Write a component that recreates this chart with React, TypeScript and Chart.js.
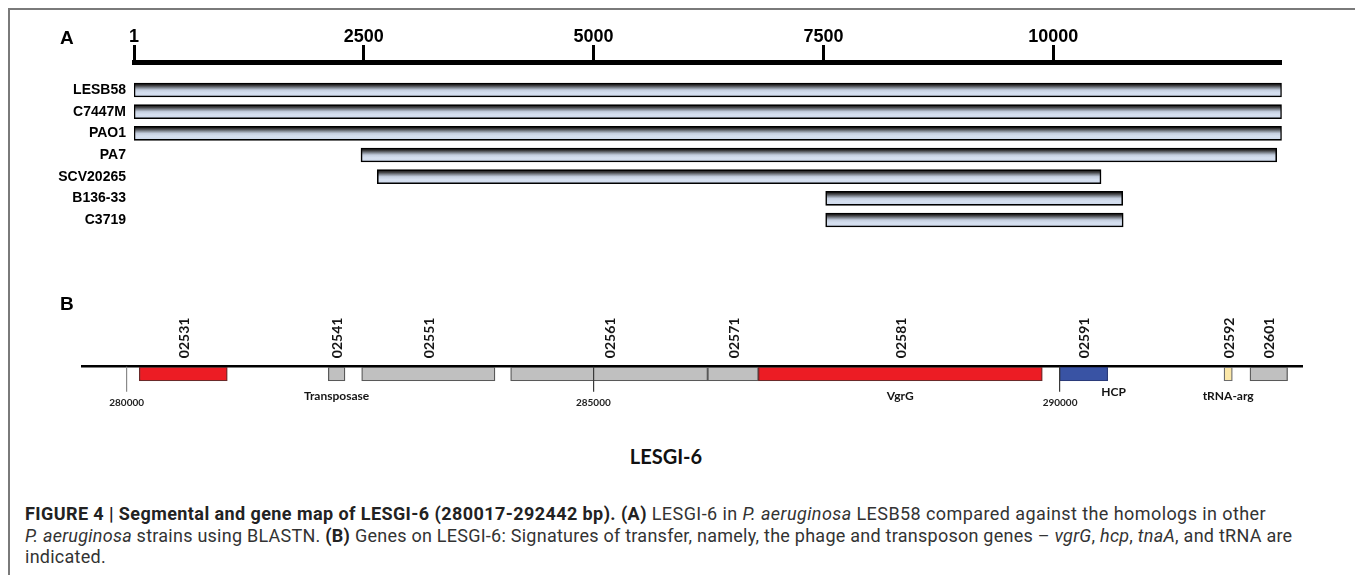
import React, { useEffect, useRef } from 'react';
import { Chart, registerables } from 'chart.js';

Chart.register(...registerables);

// ---------- Panel A data ----------
const strains = ['LESB58', 'C7447M', 'PAO1', 'PA7', 'SCV20265', 'B136-33', 'C3719'];
const strainStart = [1, 1, 1, 2470, 2647, 7524, 7524];
const strainEnd = [12484, 12484, 12484, 12430, 10519, 10755, 10760];
const rulerTicks = [1, 2500, 5000, 7500, 10000];
const rulerMin = 1;
const rulerMax = 12484;

// ---------- Panel B data ----------
const genes = ['02531', '02541', '02551', '02561', '02571', '02581', '02591', '02592', '02601'];
const geneStart = [280135, 282160, 282518, 284114, 286225, 286768, 289993, 291757, 292035];
const geneEnd = [281078, 282339, 283946, 286225, 286768, 289810, 290511, 291846, 292438];
const geneType = ['phage', 'other', 'other', 'other', 'other', 'phage', 'hcp', 'trna', 'other'];
const geneNotes = ['', 'Transposase', '', '', '', 'VgrG', 'HCP', 'tRNA-arg', ''];
const bpTicks = [280000, 285000, 290000];
const bpMin = 279529;
const bpMax = 292600;

// ---------- styles ----------
const typeFill: Record<string, string> = {
  phage: '#ec1c24',
  other: '#c0c0c0',
  hcp: '#3953a4',
  trna: '#fbe7a8',
};
const typeStroke: Record<string, string> = {
  phage: '#6a2a2a',
  other: '#595959',
  hcp: '#2b3b7a',
  trna: '#6b6b6b',
};

const barGradient = (c: any) => {
  const chart = c.chart;
  const { ctx, chartArea, scales } = chart;
  if (!chartArea || !c.raw) return '#d3ddee';
  const yc = scales.y.getPixelForValue(c.raw.y);
  const g = ctx.createLinearGradient(0, yc - 7, 0, yc + 7);
  g.addColorStop(0, '#0e0e0e');
  g.addColorStop(0.18, '#3c3c3e');
  g.addColorStop(0.36, '#8a919c');
  g.addColorStop(0.5, '#c4cedf');
  g.addColorStop(0.7, '#d6e0f0');
  g.addColorStop(1, '#cdd8ea');
  return g;
};

const geneLabelPlugin = {
  id: 'geneLabels',
  afterDatasetsDraw(chart: any) {
    const { ctx, chartArea, scales } = chart;
    const x = scales.x;
    ctx.save();
    ctx.fillStyle = '#151515';
    ctx.font = 'bold 14px Lato';
    genes.forEach((g, i) => {
      const cx = x.getPixelForValue((geneStart[i] + geneEnd[i]) / 2);
      ctx.save();
      ctx.translate(cx, chartArea.top - 8.5);
      ctx.rotate(-Math.PI / 2);
      ctx.textAlign = 'left';
      ctx.textBaseline = 'middle';
      ctx.fillText(g, 0, 1);
      ctx.restore();
    });
    ctx.font = 'bold 12px Lato';
    ctx.textAlign = 'center';
    ctx.textBaseline = 'middle';
    geneNotes.forEach((n, i) => {
      if (!n) return;
      let cx = x.getPixelForValue((geneStart[i] + geneEnd[i]) / 2);
      let cy = chartArea.bottom + 15;
      if (n === 'HCP') {
        cx += 30;
        cy -= 4.5;
      }
      ctx.fillText(n, cx, cy);
    });
    ctx.restore();
  },
};

export default function App() {
  const refA = useRef<HTMLCanvasElement>(null);
  const refB = useRef<HTMLCanvasElement>(null);

  useEffect(() => {
    const chartA = new Chart(refA.current as HTMLCanvasElement, {
      type: 'bar',
      data: {
        datasets: [
          {
            data: strains.map((s, i) => ({ x: [strainStart[i], strainEnd[i]], y: i })) as any,
            backgroundColor: barGradient as any,
            borderColor: '#000',
            borderWidth: 1.6,
            borderSkipped: false,
            barThickness: 14,
          },
        ],
      },
      options: {
        indexAxis: 'y',
        animation: false,
        responsive: false,
        maintainAspectRatio: false,
        layout: { padding: { left: 0, right: 73.3, top: 0, bottom: 20 } },
        plugins: { legend: { display: false }, tooltip: { enabled: false } },
        scales: {
          x: {
            type: 'linear',
            position: 'top',
            min: rulerMin,
            max: rulerMax,
            afterFit: (s: any) => {
              s.height = 62.5;
            },
            afterBuildTicks: (s: any) => {
              s.ticks = rulerTicks.map((v) => ({ value: v }));
            },
            grid: {
              display: true,
              drawOnChartArea: false,
              drawTicks: true,
              tickLength: 17.5,
              tickWidth: 3,
              tickColor: '#000',
            },
            border: { display: true, width: 5, color: '#000' },
            ticks: {
              autoSkip: false,
              maxRotation: 0,
              padding: -3,
              color: '#000',
              font: { family: 'Liberation Sans', size: 18, weight: 'bold' },
              callback: (v: any) => String(v),
            },
          },
          y: {
            type: 'linear',
            offset: false,
            reverse: true,
            min: -1.269,
            max: 6.922,
            afterFit: (s: any) => {
              s.width = 134;
            },
            afterBuildTicks: (s: any) => {
              s.ticks = strains.map((_, i) => ({ value: i }));
            },
            grid: { display: false, drawTicks: false, offset: false },
            border: { display: false },
            ticks: {
              padding: 8,
              color: '#000',
              font: { family: 'Liberation Sans', size: 14, weight: 'bold' },
              callback: (v: any) => strains[v] ?? '',
            },
          },
        },
      } as any,
    });

    const chartB = new Chart(refB.current as HTMLCanvasElement, {
      type: 'bar',
      data: {
        labels: ['genes'],
        datasets: [
          {
            data: genes.map((g, i) => ({ x: [geneStart[i], geneEnd[i]], y: 'genes' })) as any,
            backgroundColor: geneType.map((t) => typeFill[t]),
            borderColor: geneType.map((t) => typeStroke[t]),
            borderWidth: 1.3,
            borderSkipped: false,
            barThickness: 14,
          },
        ],
      },
      options: {
        indexAxis: 'y',
        animation: false,
        responsive: false,
        maintainAspectRatio: false,
        layout: { padding: { left: 82.7, right: 52.3, top: 0, bottom: 0 } },
        plugins: { legend: { display: false }, tooltip: { enabled: false } },
        scales: {
          x: {
            type: 'linear',
            position: 'bottom',
            min: bpMin,
            max: bpMax,
            afterFit: (s: any) => {
              s.height = 38.7;
            },
            afterBuildTicks: (s: any) => {
              s.ticks = bpTicks.map((v) => ({ value: v }));
            },
            grid: {
              display: true,
              drawOnChartArea: true,
              drawTicks: true,
              tickLength: 10.4,
              color: (c: any) => (c.tick && c.tick.value === bpTicks[0] ? '#8a8a8a' : '#3a3a3a'),
              lineWidth: 1.2,
              z: 1,
            },
            border: { display: false },
            ticks: {
              autoSkip: false,
              maxRotation: 0,
              padding: 5,
              color: '#222',
              font: { family: 'Lato', size: 10, weight: 'bold' },
              callback: (v: any) => String(v),
            },
          },
          xTop: {
            type: 'linear',
            axis: 'x',
            position: 'top',
            min: bpMin,
            max: bpMax,
            afterFit: (s: any) => {
              s.height = 116.7;
            },
            grid: { display: true, drawOnChartArea: false, drawTicks: false },
            border: { display: true, width: 2.6, color: '#000' },
            ticks: { display: false },
          },
          y: { type: 'category', display: false, offset: true },
        },
      } as any,
      plugins: [geneLabelPlugin as any],
    });

    return () => {
      chartA.destroy();
      chartB.destroy();
    };
  }, []);

  const abs = (o: React.CSSProperties): React.CSSProperties => ({ position: 'absolute', ...o });

  return (
    <div
      style={{
        position: 'fixed',
        left: 0,
        top: 0,
        width: 1355,
        height: 575,
        overflow: 'hidden',
        background: '#fff',
      }}
    >
      <div
        style={abs({
          left: 7.5,
          top: 7.5,
          width: 1400,
          height: 620,
          borderTop: '2px solid #7a7a7a',
          borderLeft: '2px solid #7a7a7a',
        })}
      />
      <canvas ref={refA} width={1355} height={260} style={abs({ left: 0, top: 0, width: 1355, height: 260 })} />
      <canvas ref={refB} width={1355} height={170} style={abs({ left: 0, top: 250, width: 1355, height: 170 })} />
      <div
        style={abs({
          left: 60,
          top: 27,
          height: 20,
          lineHeight: '20px',
          font: 'bold 19px "Liberation Sans", Arial, sans-serif',
          color: '#000',
        })}
      >
        A
      </div>
      <div
        style={abs({
          left: 60,
          top: 292.5,
          height: 20,
          lineHeight: '20px',
          font: 'bold 19px "Liberation Sans", Arial, sans-serif',
          color: '#000',
        })}
      >
        B
      </div>
      <div
        style={abs({
          left: 566,
          width: 200,
          top: 444,
          height: 24,
          lineHeight: '24px',
          textAlign: 'center',
          font: 'bold 20px Lato, sans-serif',
          color: '#111',
        })}
      >
        LESGI-6
      </div>
      <div
        style={abs({
          left: 25,
          top: 503,
          lineHeight: '21.5px',
          fontFamily: 'Roboto, sans-serif',
          fontSize: 18,
          color: '#333',
          whiteSpace: 'nowrap',
          letterSpacing: '0.25px',
        })}
      >
        <div style={{ letterSpacing: '0.42px' }}>
          <b style={{ color: '#222' }}>FIGURE 4 | Segmental and gene map of LESGI-6 (280017-292442 bp). (A)</b> LESGI-6 in{' '}
          <i>P. aeruginosa</i> LESB58 compared against the homologs in other
        </div>
        <div>
          <i>P. aeruginosa</i> strains using BLASTN. <b style={{ color: '#222' }}>(B)</b> Genes on LESGI-6: Signatures of
          transfer, namely, the phage and transposon genes – <i>vgrG</i>, <i>hcp</i>, <i>tnaA</i>, and tRNA are
        </div>
        <div>indicated.</div>
      </div>
    </div>
  );
}
